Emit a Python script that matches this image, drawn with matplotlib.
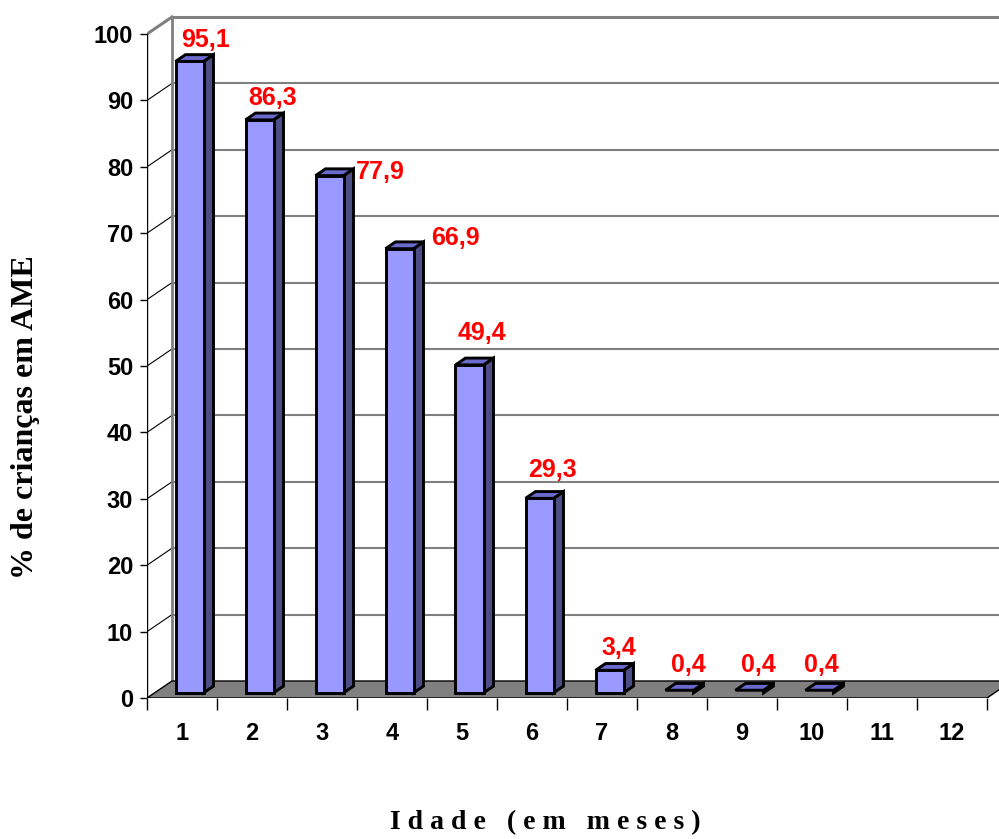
import matplotlib
matplotlib.use("Agg")
import matplotlib.pyplot as plt
from matplotlib.patches import Polygon

# exclusive breastfeeding by month of age
months = list(range(1, 13))
pct_ame = [95.1, 86.3, 77.9, 66.9, 49.4, 29.3, 3.4, 0.4, 0.4, 0.4]
value_labels = ["95,1", "86,3", "77,9", "66,9", "49,4", "29,3", "3,4", "0,4", "0,4", "0,4"]
y_ticks = list(range(0, 101, 10))

# where each value label sits relative to its bar (offset points)
label_shift = [(17, 19), (15, 19.5), (42, 6), (46, 11.5), (14.5, 26.5),
               (14.5, 24), (12, 20), (12, 22), (12, 22), (7, 22)]

# oblique depth of the 3d box, in data units
DX = 25 / 70
DY = 17 / 6.64
BAR_W = 0.4
D0, D1 = 0.3, 0.7

FRONT = "#9999FF"
TOP = "#6A6ACD"
SIDE = "#4D4D85"
WALL = "#808080"


def pt(x, v, d):
    return (x + d * DX, v + d * DY)


fig = plt.figure(figsize=(9.99, 8.39), dpi=100)
W, H = 999, 839
ax = fig.add_axes([147 / W, 141 / H, 852 / W, 686 / H])
ax.set_xlim(0, 852 / 70)
ax.set_ylim(0, 686 / 6.64)
for s in ax.spines.values():
    s.set_visible(False)

ncat = len(months)

# floor
ax.add_patch(Polygon([pt(0, 0, 0), pt(ncat, 0, 0), pt(ncat, 0, 1), pt(0, 0, 1)],
                     closed=True, facecolor=WALL, edgecolor="black", lw=1, zorder=1))

# back wall gridlines and left wall lines
for v in y_ticks[1:]:
    top = v == y_ticks[-1]
    ax.plot([DX, ncat + DX], [v + DY, v + DY], color=WALL, lw=2.2 if top else 1.5,
            zorder=0, clip_on=False)
    ax.plot([0, DX], [v, v + DY], color=WALL if top else "black",
            lw=2.2 if top else 0.8, zorder=0)
ax.plot([DX, DX], [DY, y_ticks[-1] + DY], color=WALL, lw=2, zorder=0)
ax.plot([0, 0], [0, y_ticks[-1]], color="black", lw=1, zorder=5)

# bars
for i, v in enumerate(pct_ame):
    x0 = i + 0.5 - BAR_W / 2
    x1 = x0 + BAR_W
    kw = dict(closed=True, edgecolor="black", lw=2.1, joinstyle="miter", zorder=3)
    ax.add_patch(Polygon([pt(x1, 0, D0), pt(x1, 0, D1), pt(x1, v, D1), pt(x1, v, D0)],
                         facecolor=SIDE, **kw))
    ax.add_patch(Polygon([pt(x0, v, D0), pt(x1, v, D0), pt(x1, v, D1), pt(x0, v, D1)],
                         facecolor=TOP, **kw))
    if v > 1:
        ax.add_patch(Polygon([pt(x0, 0, D0), pt(x1, 0, D0), pt(x1, v, D0), pt(x0, v, D0)],
                             facecolor=FRONT, **kw))
    ax.annotate(value_labels[i], (i + 0.5, v), xytext=label_shift[i],
                textcoords="offset points", ha="center", va="center",
                color="red", fontsize=18, fontweight="bold",
                family="Liberation Sans", zorder=6)

# axes ticks and labels
tick_font = dict(family="Liberation Sans", fontweight="bold", fontsize=17)
ax.set_xticks(range(0, ncat + 1))
ax.set_xticklabels([])
ax.set_xticks([m - 0.5 for m in months], minor=True)
ax.set_xticklabels([str(m) for m in months], minor=True, **tick_font)
ax.tick_params(axis="x", which="major", direction="out", length=8.6, width=1, color="black")
ax.tick_params(axis="x", which="minor", length=0, pad=17)

ax.set_yticks(y_ticks)
ax.set_yticklabels([str(t) for t in y_ticks], **tick_font)
ax.tick_params(axis="y", direction="out", length=5, width=1, pad=5)

fig.text(26 / W, 1 - 417 / H, "% de crianças em AME", rotation=90,
         ha="center", va="center", family="Liberation Serif",
         fontweight="bold", fontsize=23)
fig.text(545 / W, 1 - 823 / H, "I d a d e   ( e m   m e s e s )",
         ha="center", va="center", family="Liberation Serif",
         fontweight="bold", fontsize=20)

fig.savefig("out.png", dpi=100)
